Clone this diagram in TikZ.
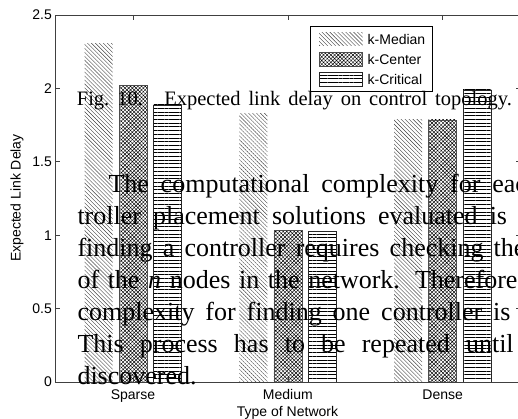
\documentclass[tikz,border=0pt]{standalone}
\usepackage{fontspec}
\setmainfont{Liberation Serif}
\newfontfamily\labelfont{Liberation Sans}
\usetikzlibrary{patterns.meta}
\tikzset{
  axisline/.style={draw=black!75, line width=0.6pt},
  kmedian/.style={pattern={Lines[angle=-45,distance=2.8pt,line width=0.4pt]}, pattern color=black!75},
  kcenter/.style={pattern={Hatch[angle=45,distance=2.6pt,line width=0.45pt]}, pattern color=black, draw=black!70, line width=0.6pt},
  kcritical/.style={pattern={Lines[angle=0,distance=3.7pt,line width=0.5pt]}, pattern color=black, draw=black!85, line width=0.6pt},
  lbl/.style={font=\labelfont\fontsize{14}{14}\selectfont, inner sep=0pt, text=black},
  paper/.style={font=\fontsize{26}{26}\selectfont, inner sep=0pt, anchor=base west, text=black},
  captxt/.style={font=\fontsize{20.5}{20.5}\selectfont, inner sep=0pt, anchor=base west, text=black},
}
\begin{document}
\begin{tikzpicture}[x=1pt,y=-1pt]
\useasboundingbox (0,0) rectangle (518,419);
\clip (0,0) rectangle (518,419);
% bars
\foreach \g/\a/\b/\c [count=\i from 0] in {0/2.307/2.02/1.887, 1/1.826/1.03/1.024, 2/1.785/1.785/1.99}{
  \pgfmathsetmacro\cx{133+154.85*\g}
  \path[kmedian] ({\cx-34.5-14},382) rectangle ({\cx-34.5+14},{382-146.8*\a});
  \path[kcenter] ({\cx-14},382) rectangle ({\cx+14},{382-146.8*\b});
  \path[kcritical] ({\cx+34.5-14},382) rectangle ({\cx+34.5+14},{382-146.8*\c});
}
% axes box
\draw[axisline] (55,15) rectangle (521,382);
% ticks
\foreach \v in {0,0.5,1,1.5,2,2.5}{
  \draw[axisline] (55,{382-146.8*\v}) -- (60,{382-146.8*\v});
  \draw[axisline] (521,{382-146.8*\v}) -- (516,{382-146.8*\v});
}
\foreach \g in {0,1,2}{
  \draw[axisline] ({133+154.85*\g},382) -- ({133+154.85*\g},377);
  \draw[axisline] ({133+154.85*\g},15) -- ({133+154.85*\g},20);
}
% tick labels
\foreach \v/\t [count=\k] in {0/0,0.5/0.5,1/1,1.5/1.5,2/2,2.5/2.5}{
  \node[lbl, anchor=east] (ytick\k) at (52,{382-146.8*\v}) {\t};
}
\node[lbl, anchor=base] (xsparse) at (133,399) {Sparse};
\node[lbl, anchor=base] (xmedium) at (287.85,399) {Medium};
\node[lbl, anchor=base] (xdense) at (442.7,399) {Dense};
\node[lbl, anchor=base] (xlabel) at (287.5,416.5) {Type of Network};
\node[lbl, rotate=90] (ylabel) at (17,198) {Expected Link Delay};
% legend
\draw[fill=white, draw=black, line width=0.5pt] (310.7,26) rectangle (432.7,91.7);
\path[kmedian] (319,32.3) rectangle (362.7,45.8);
\path[kcenter] (319,52.6) rectangle (362.7,66.1);
\path[kcritical] (319,72.6) rectangle (362.7,86.1);
\node[lbl, anchor=base west] (lgmed) at (367.5,44.2) {k-Median};
\node[lbl, anchor=base west] (lgcen) at (367.5,64.4) {k-Center};
\node[lbl, anchor=base west] (lgcri) at (367.5,84.4) {k-Critical};
% overlaid paper text
\node[captxt] (cap) at (76.7,105.5) {\makebox[435pt][s]{Fig.\ 10.\hspace{6pt} Expected link delay on control topology.}};
\node[paper] (l1) at (108.3,192.3) {\makebox[383.7pt][s]{The computational complexity for \rlap{eac}}};
\node[paper] (l2) at (77.3,224.3) {\makebox[412.2pt][s]{troller placement solutions evaluated \rlap{is}}};
\node[paper] (l3) at (77.3,256.3) {\makebox[416.2pt][s]{finding a controller requires checking \rlap{the}}};
\node[paper] (l4) at (77.3,288.3) {\makebox[337.5pt][s]{of the \textit{n} nodes in the network. \rlap{Therefore}}};
\node[paper] (l5) at (77.3,320.3) {\makebox[415.7pt][s]{complexity for finding one controller \rlap{is}}};
\node[paper] (l6) at (77.3,352.3) {\makebox[388.5pt][s]{This process has to be repeated \rlap{until}}};
\node[paper] (l7) at (77.3,384.3) {discovered.};
\end{tikzpicture}
\end{document}
